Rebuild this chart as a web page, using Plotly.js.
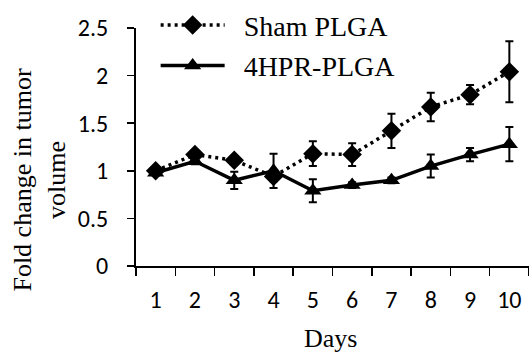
<!DOCTYPE html>
<html>
<head>
<meta charset="utf-8">
<script src="https://cdn.plot.ly/plotly-3.0.1.min.js"></script>
<style>html,body{margin:0;padding:0;background:#fff}#chart{width:529px;height:353px}</style>
</head>
<body>
<div id="chart"></div>
<script>
// Fold change in tumor volume over 10 days
const days = ["1", "2", "3", "4", "5", "6", "7", "8", "9", "10"];
const shamValues = [1.00, 1.17, 1.11, 0.94, 1.18, 1.17, 1.42, 1.67, 1.80, 2.04];
const shamErrors = [0.02, 0.03, 0.03, 0.05, 0.13, 0.12, 0.18, 0.15, 0.10, 0.32];
const hprValues = [0.98, 1.10, 0.90, 1.00, 0.79, 0.85, 0.90, 1.05, 1.17, 1.28];
const hprErrors = [0.02, 0.03, 0.09, 0.18, 0.12, 0.03, 0.03, 0.12, 0.07, 0.18];
const yTicks = [0, 0.5, 1, 1.5, 2, 2.5];
const yTickText = ["0", "0.5", "1", "1.5", "2", "2.5"];

const tickFont = {family: "Carlito, Lato, 'Open Sans', sans-serif", size: 24, color: "#000"};
const serif = "'Liberation Serif', 'DejaVu Serif', serif";

const traces = [
  {
    x: days, y: shamValues, name: "\u00a0\u00a0Sham PLGA", type: "scatter", mode: "lines+markers",
    legendgroup: "a",
    line: {color: "#000", width: 3.5, dash: "3px,4px"},
    marker: {symbol: "diamond", size: 15, color: "#000"},
    error_y: {type: "data", array: shamErrors, visible: true, color: "#000", thickness: 2, width: 4}
  },
  {
    x: days, y: hprValues, name: "\u00a0\u00a04HPR-PLGA", type: "scatter", mode: "lines+markers",
    legendgroup: "b",
    line: {color: "#000", width: 3.5},
    marker: {symbol: "triangle-up", size: 15, color: "#000"},
    error_y: {type: "data", array: hprErrors, visible: true, color: "#000", thickness: 2, width: 4}
  }
];

const layout = {
  width: 529, height: 353,
  margin: {l: 136, r: 0, t: 23, b: 87},
  paper_bgcolor: "#fff", plot_bgcolor: "#fff",
  showlegend: true,
  legend: {
    x: 0.05, y: 1.116, xanchor: "left", yanchor: "top",
    bgcolor: "rgba(0,0,0,0)",
    font: {family: serif, size: 28, color: "#000"},
    itemwidth: 64, traceorder: "grouped", tracegroupgap: 1
  },
  xaxis: {
    type: "category", range: [-0.5, 9.5],
    showline: true, linecolor: "#000", linewidth: 2,
    ticks: "outside", tickson: "boundaries", ticklen: 8, tickwidth: 1.5, tickcolor: "#000",
    tickfont: tickFont, ticklabelstandoff: 11,
    showgrid: false, zeroline: false, fixedrange: true
  },
  yaxis: {
    range: [0, 2.5], tickvals: yTicks, ticktext: yTickText,
    showline: true, linecolor: "#000", linewidth: 2,
    ticks: "outside", ticklen: 7, tickwidth: 1.5, tickcolor: "#000",
    tickfont: tickFont, ticklabelstandoff: 14,
    showgrid: false, zeroline: false, fixedrange: true
  },
  annotations: [
    {text: "Days", xref: "paper", yref: "paper", x: 0.496, y: -0.3045, xanchor: "center", yanchor: "middle",
     showarrow: false, font: {family: serif, size: 26, color: "#000"}},
    {text: "Fold change in tumor<br>volume", xref: "paper", yref: "paper", x: -0.245, y: 0.362,
     xanchor: "center", yanchor: "middle", textangle: -90, showarrow: false,
     font: {family: serif, size: 26, color: "#000"}}
  ]
};

Plotly.newPlot("chart", traces, layout, {displayModeBar: false, staticPlot: true});
</script>
</body>
</html>
